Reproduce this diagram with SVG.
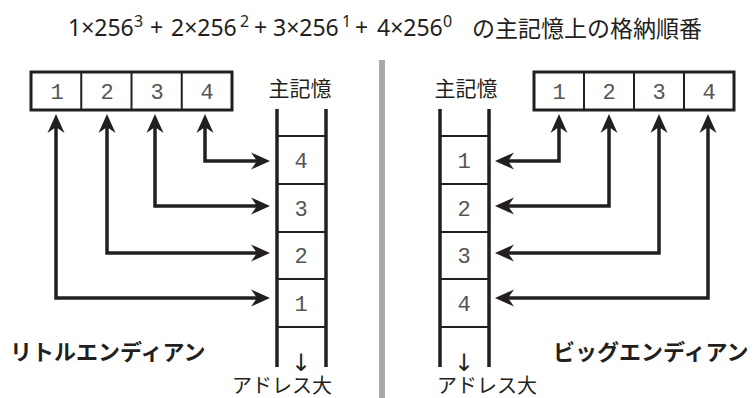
<svg xmlns="http://www.w3.org/2000/svg" width="756" height="398" viewBox="0 0 756 398">
<style>
.jp{font-family:"Noto Sans CJK JP","Noto Sans",sans-serif;fill:#231f20}
.lt{font-family:"Noto Sans","Noto Sans CJK JP",sans-serif;fill:#231f20;font-size:23px}
.sup{font-size:16px}
.lbl{font-size:21px}
.bold{font-size:22px;font-weight:bold}
.addr{font-size:20px}
.da{font-family:"DejaVu Sans",sans-serif;font-size:24px;fill:#231f20;text-anchor:middle}
.dg{font-family:"Liberation Mono",monospace;font-size:22px;fill:#555;text-anchor:middle}
.box{fill:#fff;stroke:#231f20;stroke-width:3}
.div{stroke:#231f20;stroke-width:2}
.col{stroke:#231f20;stroke-width:3.5}
.arr{fill:none;stroke:#231f20;stroke-width:3.5;marker-start:url(#ah);marker-end:url(#ah)}
</style>
<defs>
<marker id="ah" markerUnits="userSpaceOnUse" markerWidth="22" markerHeight="20" viewBox="-21 -10 22 20" refX="-8" refY="0" orient="auto-start-reverse" overflow="visible">
<path d="M0,0 L-19,-8.5 L-13,0 L-19,8.5 Z" fill="#231f20"/>
</marker>
</defs>
<text class="lt"><tspan x="68" y="36">1×256</tspan><tspan class="sup" x="134" y="27">3</tspan><tspan x="150" y="36">+</tspan><tspan x="171" y="36">2×256</tspan><tspan class="sup" x="240" y="27">2</tspan><tspan x="254" y="36">+</tspan><tspan x="273" y="36">3×256</tspan><tspan class="sup" x="342" y="27">1</tspan><tspan x="355" y="36">+</tspan><tspan x="377" y="36">4×256</tspan><tspan class="sup" x="443" y="27">0</tspan></text>
<text class="jp" x="472" y="37" font-size="23">の主記憶上の格納順番</text>
<rect x="379" y="60" width="6" height="338" fill="#a7a9ac"/>
<g id="left-register">
<rect class="box" x="31" y="72" width="201" height="38"/>
<line class="div" x1="81.25" y1="72" x2="81.25" y2="110"/>
<line class="div" x1="131.5" y1="72" x2="131.5" y2="110"/>
<line class="div" x1="181.75" y1="72" x2="181.75" y2="110"/>
<text class="dg" x="57" y="99">1</text><text class="dg" x="107" y="99">2</text><text class="dg" x="157" y="99">3</text><text class="dg" x="207" y="99">4</text>
</g>
<g id="left-memory">
<text class="jp lbl" x="300" y="96" text-anchor="middle">主記憶</text>
<line class="col" x1="277" y1="109" x2="277" y2="367"/>
<line class="col" x1="326" y1="109" x2="326" y2="367"/>
<line class="div" x1="277" y1="136" x2="326" y2="136"/>
<line class="div" x1="277" y1="184" x2="326" y2="184"/>
<line class="div" x1="277" y1="232" x2="326" y2="232"/>
<line class="div" x1="277" y1="279" x2="326" y2="279"/>
<line class="div" x1="277" y1="327" x2="326" y2="327"/>
<text class="dg" x="301" y="168">4</text><text class="dg" x="301" y="216">3</text><text class="dg" x="301" y="263">2</text><text class="dg" x="301" y="311">1</text>
<text class="da" x="301" y="371">↓</text>
<text class="jp addr" x="282" y="393" text-anchor="middle">アドレス大</text>
</g>
<g id="left-label"><text class="jp bold" x="10" y="360">リトルエンディアン</text></g>
<g id="right-memory">
<text class="jp lbl" x="466" y="96" text-anchor="middle">主記憶</text>
<line class="col" x1="440" y1="109" x2="440" y2="367"/>
<line class="col" x1="489" y1="109" x2="489" y2="367"/>
<line class="div" x1="440" y1="136" x2="489" y2="136"/>
<line class="div" x1="440" y1="184" x2="489" y2="184"/>
<line class="div" x1="440" y1="232" x2="489" y2="232"/>
<line class="div" x1="440" y1="279" x2="489" y2="279"/>
<line class="div" x1="440" y1="327" x2="489" y2="327"/>
<text class="dg" x="464" y="168">1</text><text class="dg" x="464" y="216">2</text><text class="dg" x="464" y="263">3</text><text class="dg" x="464" y="311">4</text>
<text class="da" x="464" y="371">↓</text>
<text class="jp addr" x="487" y="393" text-anchor="middle">アドレス大</text>
</g>
<g id="right-register">
<rect class="box" x="534" y="72" width="200" height="38"/>
<line class="div" x1="584" y1="72" x2="584" y2="110"/>
<line class="div" x1="634" y1="72" x2="634" y2="110"/>
<line class="div" x1="684" y1="72" x2="684" y2="110"/>
<text class="dg" x="559" y="99">1</text><text class="dg" x="609" y="99">2</text><text class="dg" x="659" y="99">3</text><text class="dg" x="709" y="99">4</text>
</g>
<g id="right-label"><text class="jp bold" x="553" y="360">ビッグエンディアン</text></g>
<g id="connectors">
<path class="arr" d="M56,122 V298 H262"/>
<path class="arr" d="M107,122 V253 H262"/>
<path class="arr" d="M155,122 V206 H262"/>
<path class="arr" d="M205,122 V161 H262"/>
<path class="arr" d="M559,122 V161 H503"/>
<path class="arr" d="M609,122 V206 H503"/>
<path class="arr" d="M659,122 V253 H503"/>
<path class="arr" d="M708,122 V298 H503"/>
</g>
</svg>
